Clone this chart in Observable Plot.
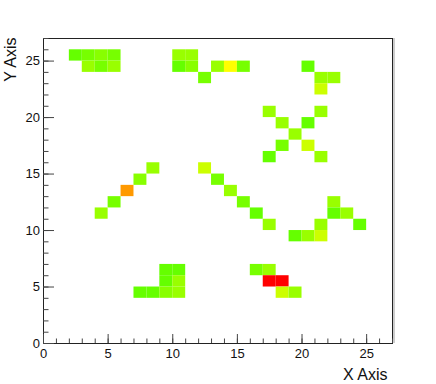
<!DOCTYPE html>
<html>
<head>
<meta charset="utf-8">
<script src="https://cdn.jsdelivr.net/npm/d3@7"></script>
<script src="https://cdn.jsdelivr.net/npm/@observablehq/plot@0.6"></script>
<style>
  html, body { margin: 0; padding: 0; background: #fff; }
  #chart svg { display: block; }
</style>
</head>
<body>
<div id="chart"></div>
<script>
// Bin lower edges (x, y) and bin content (z)
const binX = [2, 3, 4, 5, 10, 11,
              3, 4, 5, 10, 11, 13, 14, 15, 20,
              12, 21, 22,
              21,
              17, 21,
              18, 20,
              19,
              18, 20,
              17, 21,
              8, 12,
              7, 13,
              6, 14,
              5, 15, 22,
              4, 16, 22, 23,
              17, 21, 24,
              19, 20, 21,
              9, 10, 16, 17,
              9, 10, 17, 18,
              7, 8, 9, 10, 18, 19];
const binY = [25, 25, 25, 25, 25, 25,
              24, 24, 24, 24, 24, 24, 24, 24, 24,
              23, 23, 23,
              22,
              20, 20,
              19, 19,
              18,
              17, 17,
              16, 16,
              15, 15,
              14, 14,
              13, 13,
              12, 12, 12,
              11, 11, 11, 11,
              10, 10, 10,
              9, 9, 9,
              6, 6, 6, 6,
              5, 5, 5, 5,
              4, 4, 4, 4, 4, 4];
const binZ = [6.44, 6.59, 6.74, 6.59, 6.89, 6.89,
              6.89, 6.59, 6.89, 6.44, 6.74, 6.89, 7.78, 6.59, 6.44,
              6.59, 6.89, 6.89,
              7.33,
              6.89, 6.89,
              6.89, 6.44,
              6.89,
              6.59, 7.33,
              6.44, 6.89,
              6.89, 7.33,
              6.74, 6.59,
              8.67, 6.89,
              6.59, 6.59, 6.89,
              6.89, 6.44, 6.44, 6.89,
              6.89, 6.89, 6.44,
              6.44, 6.89, 7.33,
              6.44, 6.44, 6.59, 6.89,
              6.44, 6.89, 10, 10,
              6.44, 6.44, 6.74, 6.89, 7.33, 6.89];

const xMajor = [0, 5, 10, 15, 20, 25];
const yMajor = [0, 5, 10, 15, 20, 25];
const xMinor = d3.range(0, 28);
const yMinor = d3.range(0, 28);
const xTitle = "X Axis";
const yTitle = "Y Axis";

const cells = binX.map((x, i) => ({x, y: binY[i], z: binZ[i]}));
const axisColor = "#444";

const chart = Plot.plot({
  width: 436,
  height: 384,
  marginLeft: 43,
  marginRight: 44,
  marginTop: 38,
  marginBottom: 41,
  style: {fontFamily: "'Liberation Sans', Arial, sans-serif", fontSize: "13px", background: "#fff"},
  x: {domain: [0, 27], axis: null},
  y: {domain: [0, 27], axis: null},
  color: {type: "linear", domain: [0, 10], interpolate: t => d3.hsl(270 * (1 - t), 1, 0.5).formatHex()},
  marks: [
    Plot.rect(cells, {x1: "x", x2: d => d.x + 1, y1: "y", y2: d => d.y + 1, fill: "z"}),
    Plot.ruleX([27], {stroke: "#bbb", strokeWidth: 1.5, dx: 1.5}),
    Plot.frame({stroke: "#222"}),
    Plot.axisX(xMinor, {anchor: "bottom", tickSize: -4.5, fill: "none", stroke: axisColor, label: null}),
    Plot.axisX(xMajor, {anchor: "bottom", tickSize: -9, fill: "none", stroke: axisColor, label: null}),
    Plot.axisX(xMajor, {anchor: "bottom", tickSize: 0, tickPadding: 5, fontSize: 13, fill: "#111", label: null, tickFormat: d => String(d)}),
    Plot.axisY(yMinor, {anchor: "left", tickSize: -5.5, fill: "none", stroke: axisColor, label: null}),
    Plot.axisY(yMajor, {anchor: "left", tickSize: -11, fill: "none", stroke: axisColor, label: null}),
    Plot.axisY(yMajor, {anchor: "left", tickSize: 0, tickPadding: 3.5, fontSize: 13, fill: "#111", label: null, tickFormat: d => String(d)}),
    Plot.text([xTitle], {frameAnchor: "bottom-right", text: d => d, textAnchor: "end", lineAnchor: "bottom", dx: -5, dy: 36, fontSize: 16, fill: "#111"}),
    Plot.text([yTitle], {frameAnchor: "top-left", text: d => d, rotate: -90, textAnchor: "end", lineAnchor: "bottom", dx: -27.5, dy: -1, fontSize: 16, fill: "#111"})
  ]
});
document.getElementById("chart").append(chart);
</script>
</body>
</html>
